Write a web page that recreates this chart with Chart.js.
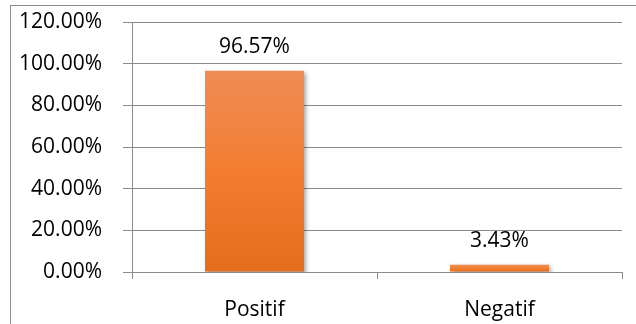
<!DOCTYPE html>
<html>
<head>
<meta charset="utf-8">
<script src="https://cdn.jsdelivr.net/npm/chart.js@4.4.1/dist/chart.umd.min.js"></script>
<style>
    body { margin: 0; background: #fff; }
    .frame {
        position: absolute; left: 10px; top: 5px;
        width: 700px; height: 400px;
        border-left: 1px solid #8c8c8c;
        border-top: 1px solid #8c8c8c;
    }
    .my-chart { position: absolute; left: 0; top: 0; }
</style>
</head>
<body>
<div class="frame"></div>
<canvas class="my-chart" width="636" height="324"></canvas>
<script>
const categories = ["Positif", "Negatif"];
const values = [96.57, 3.43];
const yTickLabels = ["0.00%", "20.00%", "40.00%", "60.00%", "80.00%", "100.00%", "120.00%"];

const gridColor = '#8c8c8c';
const textColor = '#000';
const fontFamily = "'Open Sans', sans-serif";
const fontSize = 21;

// gradient per bar, light at the top, darker at the bottom
function barGradient(context) {
    const chart = context.chart;
    const area = chart.chartArea;
    if (!area) return '#f07d35';
    const top = chart.scales.y.getPixelForValue(context.raw);
    const g = chart.ctx.createLinearGradient(0, top, 0, area.bottom);
    g.addColorStop(0, '#f08c55');
    g.addColorStop(0.5, '#f27d30');
    g.addColorStop(1, '#e46c1c');
    return g;
}

const barShadow = {
    id: 'barShadow',
    beforeDatasetsDraw(chart) {
        const ctx = chart.ctx;
        ctx.save();
        ctx.shadowColor = 'rgba(0,0,0,0.35)';
        ctx.shadowBlur = 4;
        ctx.shadowOffsetX = 2;
        ctx.shadowOffsetY = 2;
    },
    afterDatasetsDraw(chart) {
        chart.ctx.restore();
    }
};

const valueLabels = {
    id: 'valueLabels',
    afterDatasetsDraw(chart) {
        const ctx = chart.ctx;
        ctx.save();
        ctx.font = fontSize + "px " + fontFamily;
        ctx.fillStyle = textColor;
        ctx.textAlign = 'center';
        ctx.textBaseline = 'alphabetic';
        chart.getDatasetMeta(0).data.forEach((bar, i) => {
            ctx.fillText(values[i].toFixed(2) + '%', bar.x, bar.y - 18);
        });
        ctx.restore();
    }
};

const myChart = document.querySelector(".my-chart");

new Chart(myChart, {
    type: "bar",
    data: {
        labels: categories,
        datasets: [
            {
                data: values,
                backgroundColor: barGradient,
                borderWidth: 0,
                barPercentage: 0.404,
                categoryPercentage: 1
            },
        ],
    },
    options: {
        responsive: false,
        animation: false,
        layout: {
            padding: { left: 0, right: 14, top: 22, bottom: 0 }
        },
        scales: {
            x: {
                afterFit: (scale) => { scale.height = 52; },
                grid: {
                    offset: true,
                    drawOnChartArea: false,
                    tickLength: 7,
                    color: gridColor
                },
                border: { color: gridColor },
                ticks: {
                    color: textColor,
                    padding: 18,
                    font: { family: fontFamily, size: fontSize }
                }
            },
            y: {
                min: 0,
                max: 120,
                afterFit: (scale) => {
                    scale.width = 132;
                    scale.paddingTop = 0;
                    scale.paddingBottom = 0;
                },
                grid: {
                    color: gridColor,
                    tickLength: 9
                },
                border: { color: gridColor },
                ticks: {
                    stepSize: 20,
                    color: textColor,
                    padding: 21,
                    font: { family: fontFamily, size: fontSize },
                    callback: (v, i) => yTickLabels[i]
                }
            }
        },
        plugins: {
            legend: { display: false },
            tooltip: { enabled: false }
        }
    },
    plugins: [barShadow, valueLabels]
});
</script>
</body>
</html>
